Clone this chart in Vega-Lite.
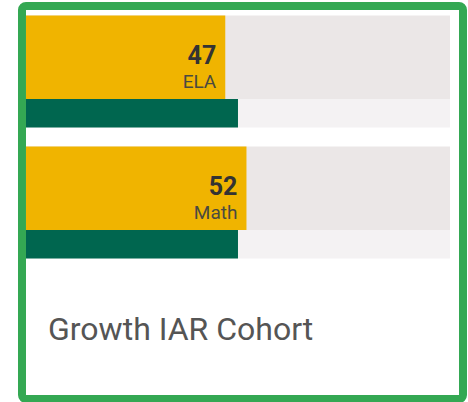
{
  "$schema": "https://vega.github.io/schema/vega-lite/v6.json",
  "autosize": {"type": "none"},
  "width": 441,
  "height": 393,
  "padding": {"left": 22, "top": 6, "right": 5, "bottom": 3},
  "background": "white",
  "config": {
    "view": {"stroke": "#34a853", "strokeWidth": 8, "cornerRadius": 4, "fill": "white"}
  },
  "datasets": {
    "scores": [
      {"subject": "ELA", "score": 47, "target": 50},
      {"subject": "Math", "score": 52, "target": 50}
    ],
    "caption": [
      {"caption": "Growth IAR Cohort"}
    ]
  },
  "layer": [
    {
      "data": {"name": "scores"},
      "mark": {"type": "bar", "color": "#ebe7e7", "orient": "horizontal"},
      "encoding": {
        "y": {"field": "subject", "type": "nominal", "bandPosition": 0, "axis": null,
              "scale": {"domain": ["ELA", "Math", "Growth IAR Cohort"], "paddingInner": 0.145, "paddingOuter": 0.0725}},
        "y2": {"field": "subject", "bandPosition": 0.745},
        "x": {"datum": 0, "type": "quantitative", "axis": null,
              "scale": {"domain": [-0.94, 103.07], "zero": false, "nice": false}},
        "x2": {"datum": 100}
      }
    },
    {
      "data": {"name": "scores"},
      "mark": {"type": "bar", "color": "#f4f2f3", "orient": "horizontal"},
      "encoding": {
        "y": {"field": "subject", "type": "nominal", "bandPosition": 0.745, "axis": null},
        "y2": {"field": "subject", "bandPosition": 1},
        "x": {"datum": 0, "type": "quantitative", "axis": null},
        "x2": {"datum": 100}
      }
    },
    {
      "data": {"name": "scores"},
      "mark": {"type": "bar", "color": "#f0b400", "orient": "horizontal"},
      "encoding": {
        "y": {"field": "subject", "type": "nominal", "bandPosition": 0, "axis": null},
        "y2": {"field": "subject", "bandPosition": 0.745},
        "x": {"field": "score", "type": "quantitative", "axis": null},
        "x2": {"datum": 0}
      }
    },
    {
      "data": {"name": "scores"},
      "mark": {"type": "bar", "color": "#00664f", "orient": "horizontal"},
      "encoding": {
        "y": {"field": "subject", "type": "nominal", "bandPosition": 0.745, "axis": null},
        "y2": {"field": "subject", "bandPosition": 1},
        "x": {"field": "target", "type": "quantitative", "axis": null},
        "x2": {"datum": 0}
      }
    },
    {
      "data": {"name": "scores"},
      "mark": {"type": "text", "align": "right", "baseline": "alphabetic", "dx": -9,
               "font": "Roboto", "fontWeight": "bold", "fontSize": 25, "color": "#333333"},
      "encoding": {
        "y": {"field": "subject", "type": "nominal", "bandPosition": 0.435, "axis": null},
        "x": {"field": "score", "type": "quantitative", "axis": null},
        "text": {"field": "score", "type": "quantitative"}
      }
    },
    {
      "data": {"name": "scores"},
      "mark": {"type": "text", "align": "right", "baseline": "alphabetic", "dx": -9,
               "font": "Roboto", "fontSize": 19, "color": "#4a4a40"},
      "encoding": {
        "y": {"field": "subject", "type": "nominal", "bandPosition": 0.645, "axis": null},
        "x": {"field": "score", "type": "quantitative", "axis": null},
        "text": {"field": "subject", "type": "nominal"}
      }
    },
    {
      "data": {"name": "caption"},
      "mark": {"type": "text", "align": "left", "baseline": "alphabetic",
               "font": "Roboto", "fontSize": 32, "color": "#555555"},
      "encoding": {
        "y": {"field": "caption", "type": "nominal", "bandPosition": 0.56, "axis": null},
        "x": {"datum": 5.2, "type": "quantitative", "axis": null},
        "text": {"field": "caption", "type": "nominal"}
      }
    }
  ]
}
